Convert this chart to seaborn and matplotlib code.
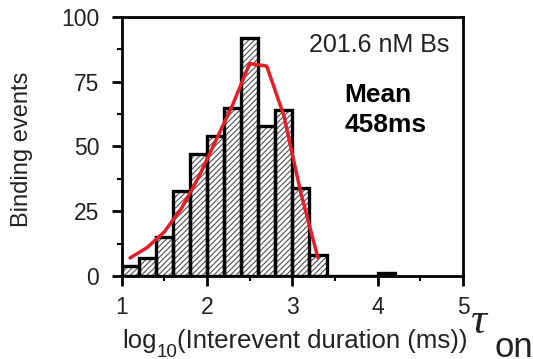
import numpy as np
import pandas as pd
import matplotlib
matplotlib.use("Agg")
import matplotlib.pyplot as plt
import seaborn as sns
from matplotlib.ticker import MultipleLocator

# Data
bin_edges = [1.0, 1.2, 1.4, 1.6, 1.8, 2.0, 2.2, 2.4, 2.6, 2.8, 3.0, 3.2, 3.4, 3.6, 3.8, 4.0, 4.2]
counts = [4, 7, 15, 33, 47, 54, 65, 92, 58, 64, 34, 8, 0, 0, 0, 1]
fit_x = [1.1, 1.3, 1.5, 1.7, 1.9, 2.1, 2.3, 2.5, 2.7, 2.9, 3.1, 3.3]
fit_y = [7, 11, 17, 26, 38, 52, 66, 82, 81, 62, 32, 7]
x_ticks = [1, 2, 3, 4, 5]
y_ticks = [0, 25, 50, 75, 100]

centers = [(bin_edges[i] + bin_edges[i + 1]) / 2 for i in range(len(counts))]
df = pd.DataFrame({"x": centers, "w": counts})
fit = pd.DataFrame({"x": fit_x, "y": fit_y})

sns.set_style("ticks")
plt.rcParams["font.family"] = ["Liberation Sans", "DejaVu Sans"]
plt.rcParams["hatch.linewidth"] = 0.8

W, H = 533, 359
fig = plt.figure(figsize=(5.33, 3.59), dpi=100)
ax = fig.add_axes([0.228, 0.231, 0.641, 0.722])

sns.histplot(data=df, x="x", weights="w", bins=bin_edges, ax=ax,
             color="white", edgecolor="#505050", hatch="//////", linewidth=0, alpha=1)
sns.histplot(data=df, x="x", weights="w", bins=bin_edges, ax=ax,
             fill=False, element="bars", color="black", linewidth=2.4)
sns.lineplot(data=fit, x="x", y="y", ax=ax, color="#e41e26", linewidth=2.5)

ax.set_xlim(1, 5)
ax.set_ylim(0, 100)
ax.set_xticks(x_ticks)
ax.set_yticks(y_ticks)
ax.xaxis.set_minor_locator(MultipleLocator(0.5))
ax.yaxis.set_minor_locator(MultipleLocator(12.5))
ax.tick_params(axis="both", which="major", direction="out", length=7, width=2,
               labelsize=16.5, color="black", labelcolor="#222222")
ax.tick_params(axis="y", which="major", pad=9)
ax.tick_params(axis="x", which="major", pad=7)
ax.tick_params(axis="both", which="minor", direction="out", length=3.5, width=1.5, color="black")
for s in ax.spines.values():
    s.set_linewidth(2)
    s.set_color("black")
    s.set_visible(True)

ax.set_xlabel("")
ax.set_ylabel("")
fig.text(22 / W, 1 - 149 / H, "Binding events", rotation=90, ha="center", va="center",
         fontsize=17, color="#222222")

# x label built from pieces: log, subscript 10, rest
renderer = fig.canvas.get_renderer()
x_px = 122.0
base_px = 348.0
t1 = fig.text(x_px / W, 1 - base_px / H, "log", ha="left", va="baseline",
              fontsize=18.5, color="#222222")
x_px += t1.get_window_extent(renderer).width
t2 = fig.text(x_px / W, 1 - (base_px + 9) / H, "10", ha="left", va="baseline",
              fontsize=13.5, color="#222222")
x_px += t2.get_window_extent(renderer).width
fig.text(x_px / W, 1 - base_px / H, "(Interevent duration (ms))", ha="left", va="baseline",
         fontsize=18.5, color="#222222")

fig.text(470 / W, 1 - 333 / H, "\u03c4", family=["Liberation Serif", "DejaVu Serif"],
         style="italic", fontsize=32, ha="left", va="baseline", color="#222222")
fig.text(494 / W, 1 - 357 / H, "on", fontsize=25, ha="left", va="baseline", color="#222222")

ax.text(0.959, 0.892, "201.6 nM Bs", transform=ax.transAxes, ha="right", va="center",
        fontsize=18, color="#222222")
ax.text(0.652, 0.745, "Mean\n458ms", transform=ax.transAxes, ha="left", va="top",
        fontsize=19, fontweight="bold", color="black", linespacing=1.3)

fig.savefig("out.png", dpi=100)
